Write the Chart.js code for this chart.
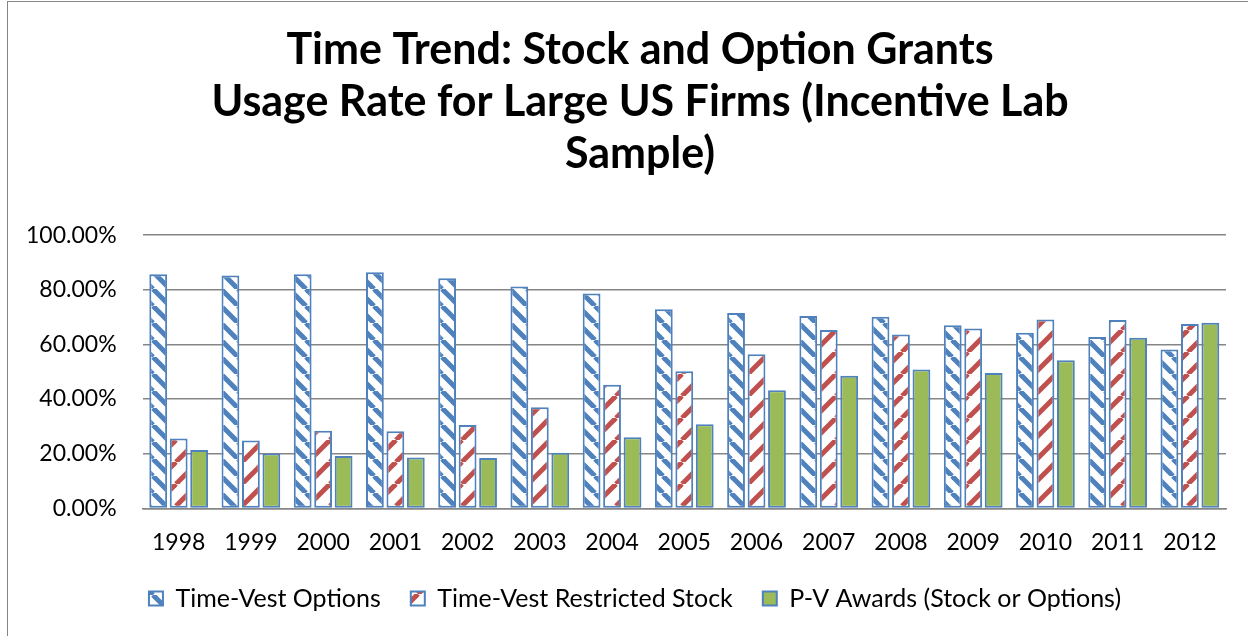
<!DOCTYPE html>
<html>
<head>
<meta charset="utf-8">
<script src="https://cdn.jsdelivr.net/npm/chart.js@4.4.1/dist/chart.umd.min.js"></script>
<style>
  html, body { margin: 0; padding: 0; background: #fff; overflow: hidden; }
  #wrap { position: absolute; left: 0; top: 0; width: 1248px; height: 636px; }
  #frame { position: absolute; left: 7px; top: 1px; width: 1400px; height: 700px; border: 1px solid #868686; box-sizing: border-box; pointer-events: none; }
</style>
</head>
<body>
<div id="wrap"><canvas id="myChart"></canvas></div>
<div id="frame"></div>
<script>
  const years = ['1998', '1999', '2000', '2001', '2002', '2003', '2004', '2005',
                 '2006', '2007', '2008', '2009', '2010', '2011', '2012'];
  const timeVestOptions = [85.7, 85.2, 85.7, 86.4, 84.2, 81.2, 78.6, 72.9, 71.5, 70.4, 70.1, 67.0, 64.3, 62.7, 58.1];
  const timeVestStock   = [25.6, 24.8, 28.4, 28.2, 30.5, 37.0, 45.2, 50.2, 56.4, 65.3, 63.6, 65.8, 69.1, 68.9, 67.5];
  const pvAwards        = [21.4, 20.1, 19.2, 18.6, 18.4, 20.4, 26.0, 30.8, 43.2, 48.5, 50.8, 49.5, 54.2, 62.4, 67.9];
  const yTicks = [0, 20, 40, 60, 80, 100];

  // diagonal stripe fills like the excel pattern fills
  function stripes(color, size, width, downward) {
    const c = document.createElement('canvas');
    c.width = size; c.height = size;
    const g = c.getContext('2d');
    g.fillStyle = '#fff';
    g.fillRect(0, 0, size, size);
    g.strokeStyle = color;
    g.lineWidth = width;
    for (const k of [-size, 0, size]) {
      g.beginPath();
      if (downward) { g.moveTo(k, 0); g.lineTo(k + size, size); }
      else { g.moveTo(k, size); g.lineTo(k + size, 0); }
      g.stroke();
    }
    return g.createPattern(c, 'repeat');
  }

  // excel centres title/legend on the whole frame, which runs past the right edge
  const nudge = {
    id: 'nudge',
    afterUpdate(chart) {
      chart.titleBlock.left += 27;
      chart.titleBlock.right += 27;
      chart.legend.left += 22;
      chart.legend.right += 22;
      chart.legend.top -= 20;
    }
  };

  const ctx = document.getElementById('myChart').getContext('2d');
  const bluePat = stripes('#4f81bd', 17, 5, true);
  const redPat = stripes('#c0504d', 22, 5, false);
  const font = 'Lato, "Open Sans", sans-serif';

  const myChart = new Chart(ctx, {
    type: 'bar',
    data: {
      labels: years,
      datasets: [{
        label: 'Time-Vest Options',
        data: timeVestOptions,
        backgroundColor: bluePat,
        borderColor: '#4f81bd',
        borderWidth: 2
      }, {
        label: 'Time-Vest Restricted Stock',
        data: timeVestStock,
        backgroundColor: redPat,
        borderColor: '#4f81bd',
        borderWidth: 2
      }, {
        label: 'P-V Awards (Stock or Options)',
        data: pvAwards,
        backgroundColor: '#9bbb59',
        borderColor: '#4f81bd',
        borderWidth: 2
      }]
    },
    plugins: [nudge],
    options: {
      responsive: true,
      maintainAspectRatio: false,
      animation: false,
      layout: { padding: { left: 0, right: 22, top: 0, bottom: 15 } },
      datasets: { bar: { categoryPercentage: 0.85, barPercentage: 0.87, borderSkipped: false } },
      plugins: {
        title: {
          display: true,
          text: ['Time Trend: Stock and Option Grants',
                 'Usage Rate for Large US Firms (Incentive Lab',
                 'Sample)'],
          color: '#000',
          font: { family: font, size: 43, weight: 'bold', lineHeight: 1.21 },
          padding: { top: 24, bottom: 55 }
        },
        legend: {
          position: 'bottom',
          maxHeight: 45,
          labels: {
            color: '#000',
            font: { family: font, size: 25 },
            boxWidth: 14,
            boxHeight: 14,
            padding: 30
          }
        },
        tooltip: { enabled: false }
      },
      scales: {
        x: {
          grid: { display: false, drawTicks: false },
          border: { display: true, color: '#868686', width: 1.5 },
          ticks: { color: '#000', font: { family: font, size: 23 }, padding: 20 }
        },
        y: {
          min: 0,
          max: 100,
          afterBuildTicks: (axis) => { axis.ticks = yTicks.map(v => ({ value: v })); },
          grid: { color: '#868686', lineWidth: 1.5, drawTicks: false },
          border: { display: false },
          ticks: {
            color: '#000',
            font: { family: font, size: 23 },
            padding: 26,
            callback: (v) => v.toFixed(2) + '%'
          }
        }
      }
    }
  });
</script>
</body>
</html>
